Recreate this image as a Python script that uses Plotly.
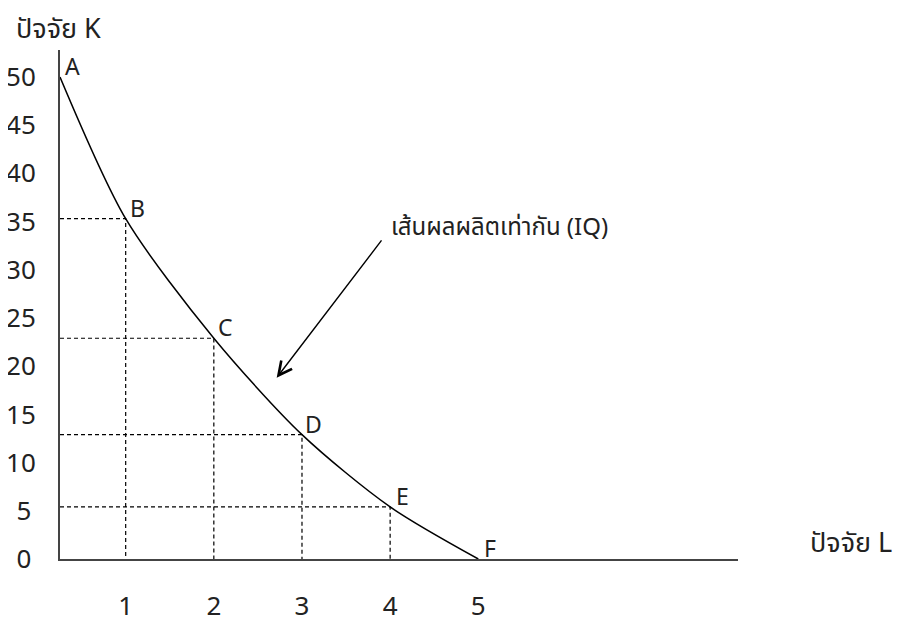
import plotly.graph_objects as go

# ---- data ----
point_names = ["A", "B", "C", "D", "E", "F"]
L_values = [0.255, 1, 2, 3, 4, 5]          # factor L (A sits on the K axis)
K_values = [50, 35.3, 22.9, 12.9, 5.4, 0]   # factor K
x_tick_vals = [1, 2, 3, 4, 5]
x_tick_text = ["1", "2", "3", "4", "5"]
y_tick_vals = [0, 5, 10, 15, 20, 25, 30, 35, 40, 45, 50]
y_tick_text = ["0\u2009", "5\u2009", "10", "15", "20", "25", "30", "35", "40", "45", "50"]

title_k = "ปัจจัย K"
title_l = "ปัจจัย L"
iq_label = "เส้นผลผลิตเท่ากัน (IQ)"

X_MIN, X_MAX = 0.255, 7.946
Y_MIN, Y_MAX = 0, 52.8

OFF = 8  # page body margin of the browser
W, H = 904 - OFF, 618 - OFF

def px(x):
    return (x - OFF) / W

def py(y):
    return 1 - (y - OFF) / H

FONT = "Noto Sans, Noto Sans Thai, DejaVu Sans, sans-serif"

fig = go.Figure()

# dashed guide lines from the interior points to both axes
gx, gy = [], []
for L, K in zip(L_values[1:-1], K_values[1:-1]):
    gx += [X_MIN, L, L, None]
    gy += [K, K, Y_MIN, None]
fig.add_trace(go.Scatter(x=gx, y=gy, mode="lines",
                         line=dict(color="black", width=1.2, dash="4px,3px"),
                         hoverinfo="skip", showlegend=False))

# isoquant curve
fig.add_trace(go.Scatter(x=L_values, y=K_values, mode="lines",
                         line=dict(color="black", width=1.5, shape="spline", smoothing=0.8),
                         showlegend=False, cliponaxis=False))

# point labels
for name, L, K in zip(point_names, L_values, K_values):
    fig.add_annotation(x=L, y=K, text=name, showarrow=False,
                       xanchor="center", yanchor="middle", xshift=12, yshift=11,
                       font=dict(size=23, color="#222", family=FONT))

# IQ arrow and label
fig.add_annotation(x=2.713, y=18.8, ax=3.915, ay=33.2, axref="x", ayref="y",
                   text="", showarrow=True, arrowhead=5, arrowsize=1.9,
                   arrowwidth=1.4, arrowcolor="black")
fig.add_annotation(x=3.99, y=34.6, text=iq_label, showarrow=False,
                   xanchor="left", yanchor="middle",
                   font=dict(size=24, color="#222", family=FONT))

# axis titles
fig.add_annotation(x=px(14), y=py(27), xref="paper", yref="paper",
                   text=title_k, showarrow=False, xanchor="left", yanchor="middle",
                   font=dict(size=27, color="#222", family=FONT))
fig.add_annotation(x=px(808), y=py(541), xref="paper", yref="paper",
                   text=title_l, showarrow=False, xanchor="left", yanchor="middle",
                   font=dict(size=27, color="#222", family=FONT))

fig.update_layout(
    width=W, height=H,
    margin=dict(l=0, r=0, t=0, b=0),
    paper_bgcolor="white", plot_bgcolor="white",
    font=dict(family=FONT, color="#222"),
    showlegend=False,
    xaxis=dict(domain=[px(60), px(738)], range=[X_MIN, X_MAX],
               showgrid=False, zeroline=False, showline=True,
               linecolor="#444", linewidth=2,
               tickmode="array", tickvals=x_tick_vals, ticktext=x_tick_text,
               ticks="", ticklabelstandoff=23, automargin=False,
               tickfont=dict(size=26, color="#222", family=FONT)),
    yaxis=dict(domain=[py(559), py(50)], range=[Y_MIN, Y_MAX],
               showgrid=False, zeroline=False, showline=True,
               linecolor="#444", linewidth=2,
               tickmode="array", tickvals=y_tick_vals, ticktext=y_tick_text,
               ticks="", ticklabelstandoff=17, automargin=False,
               tickfont=dict(size=26, color="#222", family=FONT)),
)

fig.write_html("out.html")
